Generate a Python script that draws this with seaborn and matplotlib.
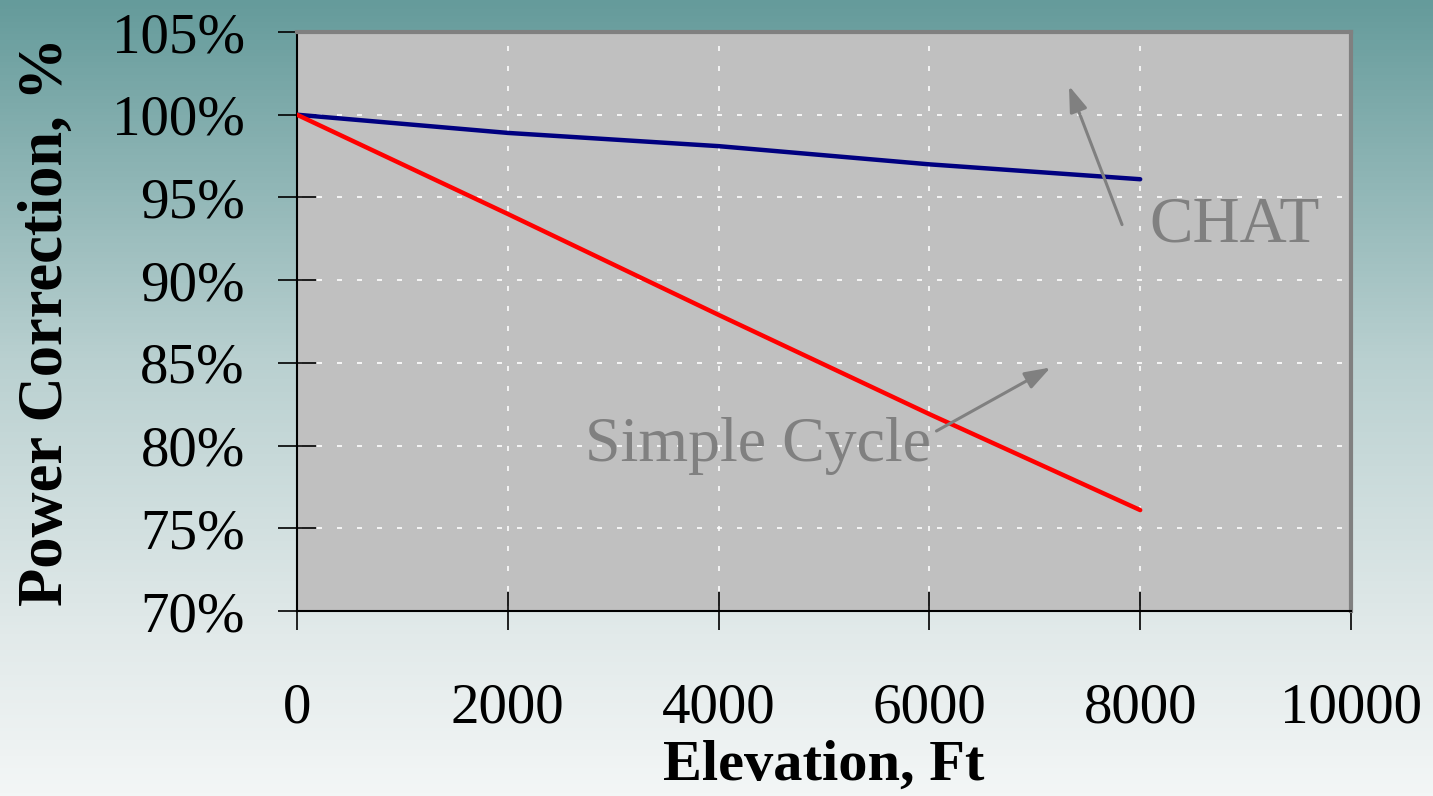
import numpy as np
import pandas as pd
import matplotlib
matplotlib.use("Agg")
import matplotlib.pyplot as plt
import seaborn as sns
from matplotlib.colors import LinearSegmentedColormap

# ---- data ----
elevation = [0, 2000, 4000, 6000, 8000]
chat = [100.0, 98.9, 98.1, 97.0, 96.1]
simple_cycle = [100.0, 94.0, 87.9, 81.9, 76.1]
series_names = ["CHAT", "Simple Cycle"]
x_ticks = [0, 2000, 4000, 6000, 8000, 10000]
y_ticks = [70, 75, 80, 85, 90, 95, 100, 105]

df = pd.DataFrame({
    "Elevation": elevation * 2,
    "Power": chat + simple_cycle,
    "Series": [series_names[0]] * len(elevation) + [series_names[1]] * len(elevation),
})

sns.set_theme(style="white")
plt.rcParams['font.family'] = ['Liberation Serif', 'DejaVu Serif']

W, H = 1433, 796
fig = plt.figure(figsize=(W / 100, H / 100), dpi=100)

# gradient background
bg = fig.add_axes([0, 0, 1, 1], zorder=0)
cmap = LinearSegmentedColormap.from_list("bg", [(0.0, "#659b9b"), (0.45, "#b9d0d0"), (0.8, "#e2eaea"), (1.0, "#f3f6f6")])
grad = np.linspace(0, 1, 256).reshape(-1, 1)
bg.imshow(grad, aspect="auto", cmap=cmap, extent=[0, 1, 0, 1], origin="upper")
bg.set_axis_off()

left, right, top, bottom = 297, 1351, 32, 611
ax = fig.add_axes([left / W, 1 - bottom / H, (right - left) / W, (bottom - top) / H], zorder=1)
ax.set_facecolor("#c0c0c0")

sns.lineplot(data=df, x="Elevation", y="Power", hue="Series",
             palette={"CHAT": "#000080", "Simple Cycle": "#ff0000"},
             linewidth=3.2, ax=ax, legend=False, zorder=3)
for l in ax.lines:
    l.set_solid_capstyle("round")

ax.set_xlim(0, 10000)
ax.set_ylim(70, 105)
ax.set_xticks(x_ticks)
ax.set_yticks(y_ticks)
ax.set_yticklabels([f"{v}%" for v in y_ticks])
ax.set_xticklabels([str(v) for v in x_ticks])

ax.grid(True, color="white", linestyle=(0, (3, 9)), linewidth=1.2, zorder=1)

for s in ["top", "right"]:
    ax.spines[s].set_color("#808080")
    ax.spines[s].set_linewidth(3)
for s in ["left", "bottom"]:
    ax.spines[s].set_color("black")
    ax.spines[s].set_linewidth(1.5)

ax.tick_params(axis="both", which="major", bottom=True, left=True, direction="inout",
               length=27, width=1.2, color="black", labelsize=41, labelcolor="black")
ax.tick_params(axis="x", pad=38)
ax.tick_params(axis="y", pad=24)

ax.set_xlabel("Elevation, Ft", fontsize=42, fontweight="bold", labelpad=4, color="black")
ax.set_ylabel("Power Correction, %", fontsize=45, fontweight="bold", labelpad=26, color="black")

# annotations
ax.annotate("", xy=(7315, 101.9), xytext=(7837, 93.2),
            arrowprops=dict(arrowstyle="-|>,head_length=1.3,head_width=0.45", color="#808080", lw=2.2))
ax.text(8090, 93.3, "CHAT", fontsize=47, color="#808080", ha="left", va="center")
ax.annotate("", xy=(7173, 84.8), xytext=(6044, 80.8),
            arrowprops=dict(arrowstyle="-|>,head_length=1.3,head_width=0.45", color="#808080", lw=2.2))
ax.text(2730, 80.0, "Simple Cycle", fontsize=46, color="#808080", ha="left", va="center")

fig.savefig("out.png", dpi=100)
